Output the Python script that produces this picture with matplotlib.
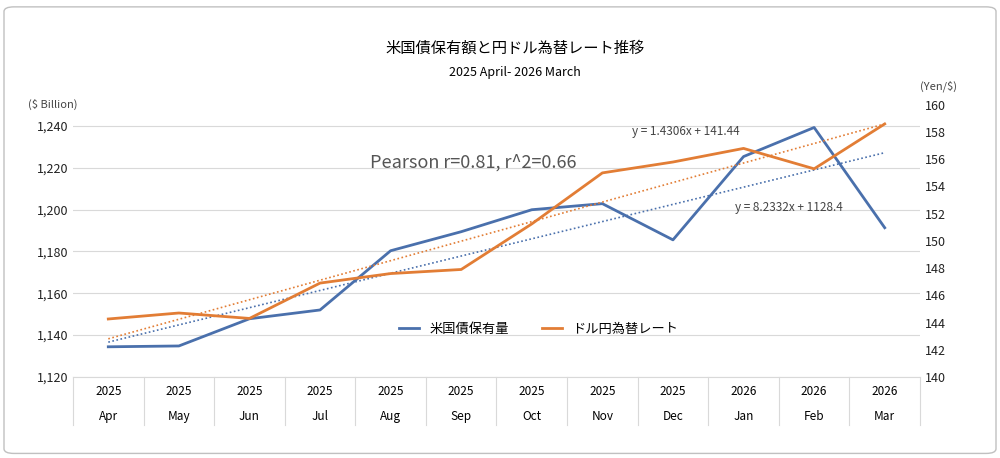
import numpy as np
import matplotlib.pyplot as plt
from matplotlib.patches import FancyBboxPatch

plt.rcParams['font.family'] = ['Noto Sans CJK JP', 'DejaVu Sans']

months = ['Apr', 'May', 'Jun', 'Jul', 'Aug', 'Sep', 'Oct', 'Nov', 'Dec', 'Jan', 'Feb', 'Mar']
years = ['2025'] * 9 + ['2026'] * 3
holdings = [1134.4, 1134.8, 1147.8, 1152.0, 1180.3, 1189.4, 1199.9, 1202.8, 1185.5, 1225.3, 1239.2, 1191.3]
usdjpy = [144.26, 144.7, 144.3, 146.9, 147.6, 147.9, 151.25, 155.0, 155.8, 156.8, 155.3, 158.6]

blue = '#4A70AC'
orange = '#E27D35'

fig = plt.figure(figsize=(10, 4.58), dpi=100)
fig.patches.append(FancyBboxPatch((0.004, 0.01), 0.992, 0.975, boxstyle='round,pad=0,rounding_size=0.01',
                                  transform=fig.transFigure, fc='white', ec='#c0c0c0', lw=1, zorder=-1))
ax = fig.add_axes([0.073, 0.177, 0.847, 0.594])
ax2 = ax.twinx()
x = np.arange(len(months))

ax.plot(x, holdings, color=blue, lw=2, label='米国債保有量')
ax2.plot(x, usdjpy, color=orange, lw=2, label='ドル円為替レート')
for axis, vals, c in [(ax, holdings, blue), (ax2, usdjpy, orange)]:
    k, b = np.polyfit(x + 1, vals, 1)
    axis.plot(x, k * (x + 1) + b, color=c, lw=1.2, ls=(0, (1, 1.5)))

ax.set_xlim(-0.5, 11.5)
ax.set_ylim(1120, 1250)
ax.set_yticks(range(1120, 1241, 20))
ax.set_yticklabels([f'{v:,}' for v in range(1120, 1241, 20)])
ax2.set_ylim(140, 160)
ax2.set_yticks(range(140, 161, 2))
ax.grid(axis='y', color='#d9d9d9', lw=0.8)
ax.set_axisbelow(True)
for a in (ax, ax2):
    for s in a.spines.values():
        s.set_visible(False)
    a.tick_params(length=0, labelsize=9, colors='#222222')
ax.spines['bottom'].set_visible(True)
ax.spines['bottom'].set_color('#d9d9d9')
ax.set_xticks([])
for i in range(13):
    ax.plot([i - 0.5, i - 0.5], [0, -0.175], transform=ax.get_xaxis_transform(), color='#d9d9d9', lw=0.8, clip_on=False)
for i, (y, m) in enumerate(zip(years, months)):
    ax.text(i, -0.055, y, transform=ax.get_xaxis_transform(), ha='center', va='center', fontsize=8.5)
    ax.text(i, -0.145, m, transform=ax.get_xaxis_transform(), ha='center', va='center', fontsize=8.5)

fig.text(0.515, 0.885, '米国債保有額と円ドル為替レート推移', ha='center', fontsize=11)
fig.text(0.515, 0.833, '2025 April- 2026 March', ha='center', fontsize=9)
fig.text(0.028, 0.765, '($ Billion)', fontsize=8, color='#444444')
fig.text(0.92, 0.805, '(Yen/$)', fontsize=8, color='#444444')
fig.text(0.37, 0.635, 'Pearson r=0.81, r^2=0.66', fontsize=13, color='#555555')
fig.text(0.632, 0.705, 'y = 1.4306x + 141.44', fontsize=8.5, color='#444444')
fig.text(0.735, 0.54, 'y = 8.2332x + 1128.4', fontsize=8.5, color='#444444')

h1, l1 = ax.get_legend_handles_labels()
h2, l2 = ax2.get_legend_handles_labels()
ax.legend(h1[:1] + h2[:1], l1[:1] + l2[:1], loc='center', bbox_to_anchor=(0.55, 0.175), ncol=2,
          frameon=False, fontsize=9.5, handlelength=1.5, columnspacing=2.5)

fig.savefig('out.png', dpi=100)
